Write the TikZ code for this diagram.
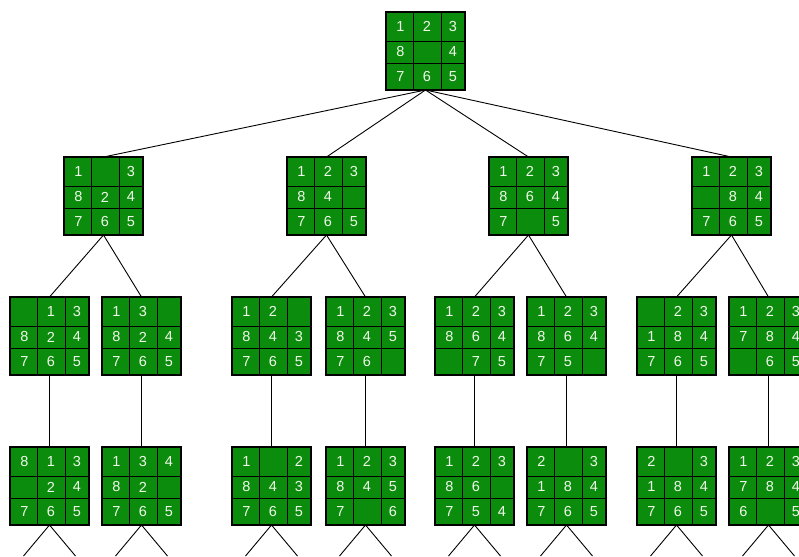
\documentclass[tikz,border=0pt]{standalone}
\usepackage{fontspec}
\setmainfont{Liberation Sans}
\definecolor{tilegreen}{RGB}{12,140,12}
\definecolor{digitwhite}{RGB}{240,250,235}
\tikzset{
  pbox/.style={draw=black, line width=1.2pt, fill=tilegreen, minimum width=79pt,
    minimum height=78pt, inner sep=0pt, outer sep=0pt, anchor=north west},
  gridline/.style={black, line width=0.9pt},
  digit/.style={text=digitwhite, font=\fontsize{14.5}{16}\selectfont, inner sep=0pt},
  edge/.style={black, line width=0.9pt}
}
\newcommand\puz[3]{\def\pzname{#1}\node[pbox] (#1) at (#2,#3) {};\pzdigits}
\newcommand\pzdigits[9]{%
  \draw[gridline] ([xshift=27pt]\pzname.north west) -- ([xshift=27pt]\pzname.south west);
  \draw[gridline] ([xshift=55pt]\pzname.north west) -- ([xshift=55pt]\pzname.south west);
  \draw[gridline] ([yshift=-29pt]\pzname.north west) -- ([yshift=-29pt]\pzname.north east);
  \draw[gridline] ([yshift=-51pt]\pzname.north west) -- ([yshift=-51pt]\pzname.north east);
  \node[digit] (\pzname-1) at ([xshift=14.5pt,yshift=-14.5pt]\pzname.north west) {#1};
  \node[digit] (\pzname-2) at ([xshift=41pt,yshift=-14.5pt]\pzname.north west) {#2};
  \node[digit] (\pzname-3) at ([xshift=67pt,yshift=-14.5pt]\pzname.north west) {#3};
  \node[digit] (\pzname-4) at ([xshift=14.5pt,yshift=-40pt]\pzname.north west) {#4};
  \node[digit] (\pzname-5) at ([xshift=41pt,yshift=-40pt]\pzname.north west) {#5};
  \node[digit] (\pzname-6) at ([xshift=67pt,yshift=-40pt]\pzname.north west) {#6};
  \node[digit] (\pzname-7) at ([xshift=14.5pt,yshift=-64.5pt]\pzname.north west) {#7};
  \node[digit] (\pzname-8) at ([xshift=41pt,yshift=-64.5pt]\pzname.north west) {#8};
  \node[digit] (\pzname-9) at ([xshift=67pt,yshift=-64.5pt]\pzname.north west) {#9};
}
\begin{document}
\begin{tikzpicture}[x=1pt,y=-1pt]
\useasboundingbox (0,0) rectangle (799,556);
% root
\puz{root}{386}{12}{1}{2}{3}{8}{}{4}{7}{6}{5}
% level 1
\puz{a}{64}{157}{1}{}{3}{8}{2}{4}{7}{6}{5}
\puz{b}{287}{157}{1}{2}{3}{8}{4}{}{7}{6}{5}
\puz{c}{489}{157}{1}{2}{3}{8}{6}{4}{7}{}{5}
\puz{d}{692}{157}{1}{2}{3}{}{8}{4}{7}{6}{5}
% level 2
\puz{A}{10}{297}{}{1}{3}{8}{2}{4}{7}{6}{5}
\puz{B}{102}{297}{1}{3}{}{8}{2}{4}{7}{6}{5}
\puz{C}{232}{297}{1}{2}{}{8}{4}{3}{7}{6}{5}
\puz{D}{326}{297}{1}{2}{3}{8}{4}{5}{7}{6}{}
\puz{E}{435}{297}{1}{2}{3}{8}{6}{4}{}{7}{5}
\puz{F}{527}{297}{1}{2}{3}{8}{6}{4}{7}{5}{}
\puz{G}{637}{297}{}{2}{3}{1}{8}{4}{7}{6}{5}
\puz{H}{729}{297}{1}{2}{3}{7}{8}{4}{}{6}{5}
% level 3
\puz{I}{10}{447}{8}{1}{3}{}{2}{4}{7}{6}{5}
\puz{J}{102}{447}{1}{3}{4}{8}{2}{}{7}{6}{5}
\puz{K}{232}{447}{1}{}{2}{8}{4}{3}{7}{6}{5}
\puz{L}{326}{447}{1}{2}{3}{8}{4}{5}{7}{}{6}
\puz{M}{435}{447}{1}{2}{3}{8}{6}{}{7}{5}{4}
\puz{N}{527}{447}{2}{}{3}{1}{8}{4}{7}{6}{5}
\puz{O}{637}{447}{2}{}{3}{1}{8}{4}{7}{6}{5}
\puz{P}{729}{447}{1}{2}{3}{7}{8}{4}{6}{}{5}
% connectors
\foreach \c in {a,b,c,d} \draw[edge] (root.south) -- (\c.north);
\draw[edge] (a.south) -- (A.north);
\draw[edge] (a.south) -- (B.north);
\draw[edge] (b.south) -- (C.north);
\draw[edge] (b.south) -- (D.north);
\draw[edge] (c.south) -- (E.north);
\draw[edge] (c.south) -- (F.north);
\draw[edge] (d.south) -- (G.north);
\draw[edge] (d.south) -- (H.north);
\foreach \u/\v in {A/I,B/J,C/K,D/L,E/M,F/N,G/O,H/P} \draw[edge] (\u.south) -- (\v.north);
\foreach \v in {I,J,K,L,M,N,O,P} {
  \coordinate (\v-l) at ([shift={(-26pt,-31pt)}]\v.south);
  \coordinate (\v-r) at ([shift={(26pt,-31pt)}]\v.south);
  \draw[edge] (\v-l) -- (\v.south) -- (\v-r);
}
\end{tikzpicture}
\end{document}
